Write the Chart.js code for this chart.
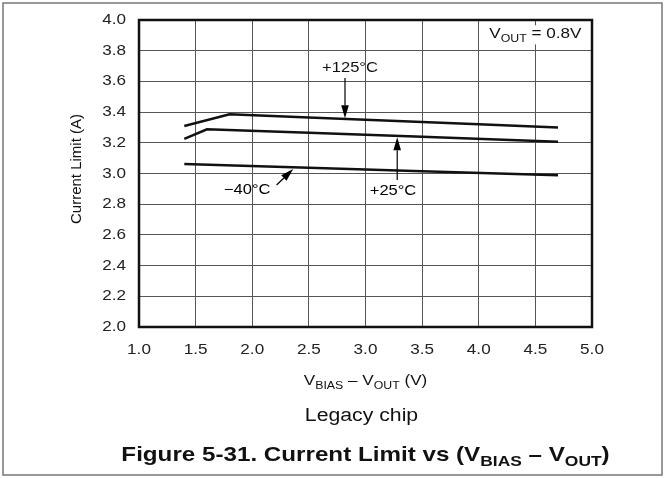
<!DOCTYPE html>
<html>
<head>
<meta charset="utf-8">
<script src="https://cdn.jsdelivr.net/npm/chart.js@4/dist/chart.umd.min.js"></script>
<style>
  html, body { margin:0; padding:0; background:#fff; }
  #wrap { width:665px; height:478px; position:relative; }
</style>
</head>
<body>
<div id="wrap"><canvas id="chart" width="665" height="478"></canvas></div>
<script>
// curve data
const x125 = [1.4, 1.8, 2.5, 3.0, 3.5, 4.0, 4.7];
const y125 = [3.31, 3.386, 3.365, 3.350, 3.336, 3.321, 3.300];
const x25  = [1.4, 1.6, 2.5, 3.5, 4.7];
const y25  = [3.225, 3.288, 3.265, 3.239, 3.207];
const xm40 = [1.4, 2.5, 3.5, 4.7];
const ym40 = [3.062, 3.037, 3.015, 2.988];

const xTicks = [1.0, 1.5, 2.0, 2.5, 3.0, 3.5, 4.0, 4.5, 5.0];
const yTicks = [2.0, 2.2, 2.4, 2.6, 2.8, 3.0, 3.2, 3.4, 3.6, 3.8, 4.0];

const FONT = "'Liberation Sans', Arial, sans-serif";
const SX = 1.18;   // the original lettering is a bit wide

const pts = (xs, ys) => xs.map((x, i) => ({x, y: ys[i]}));

function fontOf(size, bold) { return (bold ? "bold " : "") + size + "px " + FONT; }

// text with subscripts, stretched horizontally: parts = [[text, isSub], ...]
function richText(ctx, parts, x, y, size, bold, align) {
    const subSize = size * 0.72;
    const w = parts.reduce((s, p) => {
        ctx.font = fontOf(p[1] ? subSize : size, bold);
        return s + ctx.measureText(p[0]).width * SX;
    }, 0);
    let cx = align === "center" ? x - w / 2 : (align === "right" ? x - w : x);
    ctx.textAlign = "left";
    ctx.textBaseline = "middle";
    parts.forEach(p => {
        ctx.font = fontOf(p[1] ? subSize : size, bold);
        ctx.save();
        ctx.translate(cx, p[1] ? y + size * 0.32 : y);
        ctx.scale(SX, 1);
        ctx.fillText(p[0], 0, 0);
        ctx.restore();
        cx += ctx.measureText(p[0]).width * SX;
    });
    return w;
}

function text(ctx, s, x, y, size, align, bold) {
    richText(ctx, [[s, false]], x, y, size, bold, align);
}

function arrow(ctx, x1, y1, x2, y2) {
    const ang = Math.atan2(y2 - y1, x2 - x1), len = 13, hw = 3.8;
    const bx = x2 - Math.cos(ang) * len, by = y2 - Math.sin(ang) * len;
    ctx.beginPath();
    ctx.moveTo(x1, y1); ctx.lineTo(bx, by);
    ctx.lineWidth = 1.2; ctx.strokeStyle = "#000"; ctx.stroke();
    ctx.beginPath();
    ctx.moveTo(x2, y2);
    ctx.lineTo(bx - Math.sin(ang) * hw, by + Math.cos(ang) * hw);
    ctx.lineTo(bx + Math.sin(ang) * hw, by - Math.cos(ang) * hw);
    ctx.closePath(); ctx.fillStyle = "#000"; ctx.fill();
}

const decor = {
    id: "decor",
    afterDatasetsDraw(chart) {
        const {ctx, chartArea: a, scales: {x, y}} = chart;
        ctx.save();
        // plot frame
        ctx.strokeStyle = "#111"; ctx.lineWidth = 2.5;
        ctx.strokeRect(a.left, a.top, a.right - a.left, a.bottom - a.top);

        ctx.fillStyle = "#222";
        // tick labels from the library's scales
        x.ticks.forEach(t => text(ctx, t.value.toFixed(1), x.getPixelForValue(t.value), a.bottom + 23, 14.5, "center"));
        y.ticks.forEach(t => text(ctx, t.value.toFixed(1), a.left - 13, y.getPixelForValue(t.value), 14.5, "right"));

        // V_OUT box
        const vx = x.getPixelForValue(4.5), vy = y.getPixelForValue(3.9);
        ctx.fillStyle = "#fff";
        ctx.fillRect(vx - 47, vy - 10, 94, 19);
        ctx.fillStyle = "#111";
        richText(ctx, [["V", false], ["OUT", true], [" = 0.8V", false]], vx, vy - 1, 14.5, false, "center");

        // curve labels with arrows
        text(ctx, "+125°C", x.getPixelForValue(2.863), y.getPixelForValue(3.685), 14, "center");
        arrow(ctx, x.getPixelForValue(2.819), y.getPixelForValue(3.622), x.getPixelForValue(2.819), y.getPixelForValue(3.36));
        text(ctx, "+25°C", x.getPixelForValue(3.243), y.getPixelForValue(2.887), 14, "center");
        arrow(ctx, x.getPixelForValue(3.28), y.getPixelForValue(2.958), x.getPixelForValue(3.28), y.getPixelForValue(3.236));
        text(ctx, "\u221240°C", x.getPixelForValue(1.955), y.getPixelForValue(2.89), 14, "center");
        arrow(ctx, x.getPixelForValue(2.215), y.getPixelForValue(2.925), x.getPixelForValue(2.362), y.getPixelForValue(3.029));

        // axis titles
        const cx = (a.left + a.right) / 2;
        ctx.fillStyle = "#111";
        richText(ctx, [["V", false], ["BIAS", true], [" \u2013 V", false], ["OUT", true], [" (V)", false]], cx, 381, 14.5, false, "center");
        ctx.save();
        ctx.translate(77, 169);
        ctx.rotate(-Math.PI / 2);
        ctx.font = fontOf(15); ctx.textAlign = "center"; ctx.textBaseline = "middle";
        ctx.fillText("Current Limit (A)", 0, 0);
        ctx.restore();

        text(ctx, "Legacy chip", cx - 4, 416, 18, "center");
        richText(ctx, [["Figure 5-31. Current Limit vs (V", false], ["BIAS", true], [" \u2013 V", false], ["OUT", true], [")", false]], cx, 455, 20.5, true, "center");

        // outer frame
        ctx.strokeStyle = "#777"; ctx.lineWidth = 1.5;
        ctx.strokeRect(3, 3, 659, 472);
        ctx.restore();
    }
};

const lineStyle = {borderColor: "#111", borderWidth: 2.5, pointRadius: 0, showLine: true, tension: 0, fill: false};

new Chart(document.getElementById("chart"), {
    type: "scatter",
    data: {
        datasets: [
            {label: "+125°C", data: pts(x125, y125), ...lineStyle},
            {label: "+25°C", data: pts(x25, y25), ...lineStyle},
            {label: "-40°C", data: pts(xm40, ym40), ...lineStyle}
        ]
    },
    options: {
        responsive: false,
        animation: false,
        layout: {padding: {left: 0, right: 73, top: 20, bottom: 0}},
        plugins: {legend: {display: false}, tooltip: {enabled: false}},
        scales: {
            x: {
                type: "linear", min: 1, max: 5,
                afterBuildTicks: s => { s.ticks = xTicks.map(v => ({value: v})); },
                afterFit: s => { s.height = 478 - 327; },
                ticks: {display: false},
                grid: {color: "#555", lineWidth: 1, drawTicks: false},
                border: {display: false}
            },
            y: {
                type: "linear", min: 2, max: 4,
                afterBuildTicks: s => { s.ticks = yTicks.map(v => ({value: v})); },
                afterFit: s => { s.width = 139; },
                ticks: {display: false},
                grid: {color: "#555", lineWidth: 1, drawTicks: false},
                border: {display: false}
            }
        }
    },
    plugins: [decor]
});
</script>
</body>
</html>
